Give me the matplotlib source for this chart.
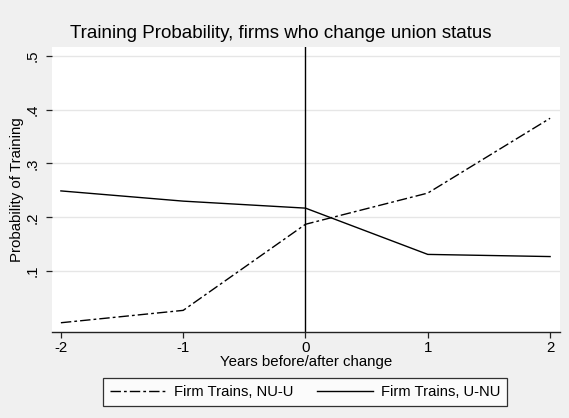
import matplotlib.pyplot as plt

plt.rcParams['font.family'] = ['Liberation Sans', 'DejaVu Sans']

# data
years = [-2, -1, 0, 1, 2]
nu_u = [0.004, 0.027, 0.187, 0.245, 0.384]   # Firm Trains, NU-U
u_nu = [0.249, 0.230, 0.217, 0.131, 0.127]   # Firm Trains, U-NU
yticks = [0.1, 0.2, 0.3, 0.4, 0.5]
ytick_labels = ['.1', '.2', '.3', '.4', '.5']

bg = '#f0f0f0'
fig = plt.figure(figsize=(5.69, 4.18), dpi=100, facecolor=bg)
ax = fig.add_axes([0.0909, 0.2065, 0.8933, 0.6818])
ax.set_facecolor('white')

l1, = ax.plot(years, nu_u, color='black', lw=1.0, dashes=(7.5, 2.2, 2, 2.2))
l2, = ax.plot(years, u_nu, color='black', lw=1.0)
ax.axvline(0, color='black', lw=1.0)

ax.set_xlim(-2.075, 2.081)
ax.set_ylim(-0.0126, 0.517)
ax.set_xticks(years)
ax.set_xticklabels([str(y) for y in years])
ax.set_yticks(yticks)
ax.set_yticklabels(ytick_labels, rotation=90, va='center')
for t in yticks:
    ax.axhline(t, color='#e6e6e6', lw=1.0, zorder=0)

for s in ['top', 'right', 'left']:
    ax.spines[s].set_visible(False)
ax.spines['bottom'].set_color('#222222')
ax.spines['bottom'].set_linewidth(1.0)
ax.tick_params(axis='both', direction='out', length=4.5, width=0.9,
               color='#222222', labelsize=10.8)
ax.tick_params(axis='x', pad=2)
ax.tick_params(axis='y', pad=4)

ax.set_xlabel('Years before/after change', fontsize=10.8, labelpad=0)
ax.set_ylabel('Probability of Training', fontsize=10.8, labelpad=1.5)

fig.text(0.494, 0.921, 'Training Probability, firms who change union status',
         ha='center', va='center', fontsize=13.5)

leg = fig.legend([l1, l2], ['Firm Trains, NU-U', 'Firm Trains, U-NU'],
                 loc='center', bbox_to_anchor=(0.536, 0.0622), ncol=2,
                 fontsize=10.6, frameon=True, fancybox=False,
                 handlelength=3.8, handletextpad=0.55, columnspacing=1.6,
                 borderpad=0.45)
leg.get_frame().set_edgecolor('black')
leg.get_frame().set_linewidth(0.9)
leg.get_frame().set_facecolor('white')

fig.savefig('out.png', dpi=100, facecolor=bg)
